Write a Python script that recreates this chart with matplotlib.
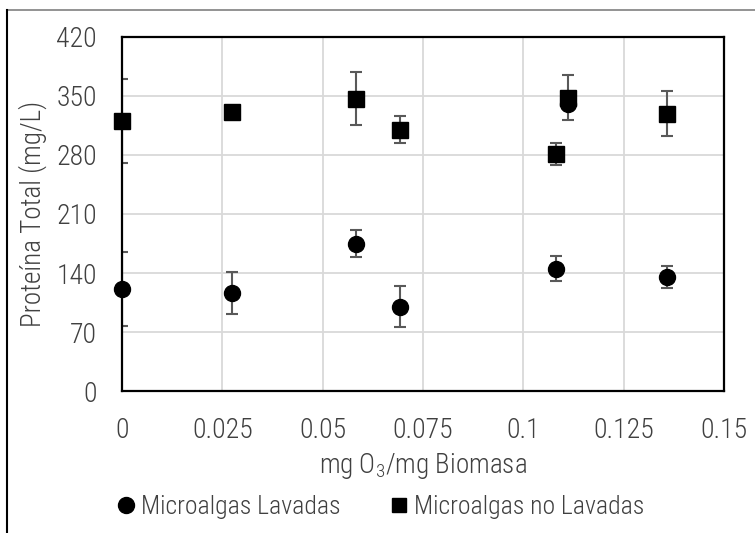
import matplotlib.pyplot as plt
from matplotlib import font_manager
from matplotlib.lines import Line2D

# datos
dosis_lav = [0.0, 0.0274, 0.0583, 0.0693, 0.1082, 0.1111, 0.1357]
prot_lav = [121, 116, 175, 100, 145, 341, 135]
err_lav = [44, 25, 16, 24, 15, 0, 13]

dosis_nolav = [0.0, 0.0274, 0.0583, 0.0693, 0.1082, 0.1111, 0.1357]
prot_nolav = [320, 331, 347, 310, 281, 348, 329]
err_nolav = [50, 0, 32, 16, 13, 27, 27]

yticks = [0, 70, 140, 210, 280, 350, 420]
xticks = [0, 0.025, 0.05, 0.075, 0.1, 0.125, 0.15]
xtick_labels = ['0', '0.025', '0.05', '0.075', '0.1', '0.125', '0.15']

# buscar una fuente estrecha si hay
fuentes = font_manager.fontManager.ttflist
nombres = {f.name for f in fuentes}
fam = None
for cand in ['Liberation Sans Narrow', 'Roboto Condensed', 'Open Sans Condensed']:
    if cand in nombres:
        fam = cand
        break
if fam is None:
    estrecha = any(f.name == 'DejaVu Sans' and 'condensed' in str(f.stretch).lower()
                   for f in fuentes)
    if estrecha:
        fam = 'DejaVu Sans'
        plt.rcParams['font.stretch'] = 'condensed'
    else:
        fam = 'Roboto'
plt.rcParams['font.family'] = [fam, 'DejaVu Sans']
plt.rcParams['font.weight'] = 'light'
plt.rcParams['axes.labelweight'] = 'light'
plt.rcParams['mathtext.fontset'] = 'custom'
plt.rcParams['mathtext.rm'] = fam + ':light'
fs = 20 if fam != 'Roboto' else 17
txt = '#404040'

fig = plt.figure(figsize=(7.55, 5.33), dpi=100)
ax = fig.add_axes([0.1616, 0.2664, 0.7974, 0.6642])

ax.errorbar(dosis_lav, prot_lav, yerr=err_lav, fmt='none',
            ecolor='#595959', elinewidth=1.5, capsize=4.5, capthick=1.5, zorder=3)
ax.errorbar(dosis_nolav, prot_nolav, yerr=err_nolav, fmt='none',
            ecolor='#595959', elinewidth=1.5, capsize=4.5, capthick=1.5, zorder=3)
ax.plot(dosis_lav, prot_lav, 'o', color='black', ms=11.5, clip_on=False, zorder=4,
        label='Microalgas Lavadas')
ax.plot(dosis_nolav, prot_nolav, 's', color='black', ms=11, clip_on=False, zorder=4,
        label='Microalgas no Lavadas')

ax.set_xlim(0, 0.15)
ax.set_ylim(0, 420)
ax.set_xticks(xticks)
ax.set_xticklabels(xtick_labels)
ax.set_yticks(yticks)
ax.grid(True, color='#d9d9d9', linewidth=1.3)
ax.set_axisbelow(True)
for s in ax.spines.values():
    s.set_linewidth(1.6)
    s.set_color('black')
    s.set_zorder(5)
ax.tick_params(length=0, labelsize=fs, colors=txt, pad=19)
ax.tick_params(axis='y', pad=18)

ax.set_xlabel('mg O$\\mathregular{_3}$/mg Biomasa', fontsize=fs - 0.5, color=txt,
              labelpad=5, fontweight='light')
ax.set_ylabel('Proteína Total (mg/L)', fontsize=fs - 0.5, color=txt, labelpad=7,
              fontweight='light')

h1 = Line2D([], [], marker='o', color='black', ls='none', ms=11.5)
h2 = Line2D([], [], marker='s', color='black', ls='none', ms=10)
leg = fig.legend([h1, h2], ['Microalgas Lavadas', 'Microalgas no Lavadas'],
                 loc='center', bbox_to_anchor=(0.505, 0.049), ncol=2, frameon=False,
                 fontsize=fs - 1.5, handlelength=0.6, handletextpad=0.3,
                 columnspacing=1.95)
for t in leg.get_texts():
    t.set_color(txt)

# marco exterior parcial
fig.add_artist(Line2D([0.0093, 1.0], [0.981, 0.981], color='#808080', lw=1.2,
                      transform=fig.transFigure))
fig.add_artist(Line2D([0.0093, 0.0093], [0.0, 0.981], color='black', lw=1.5,
                      transform=fig.transFigure))

fig.savefig('out.png', dpi=100)
